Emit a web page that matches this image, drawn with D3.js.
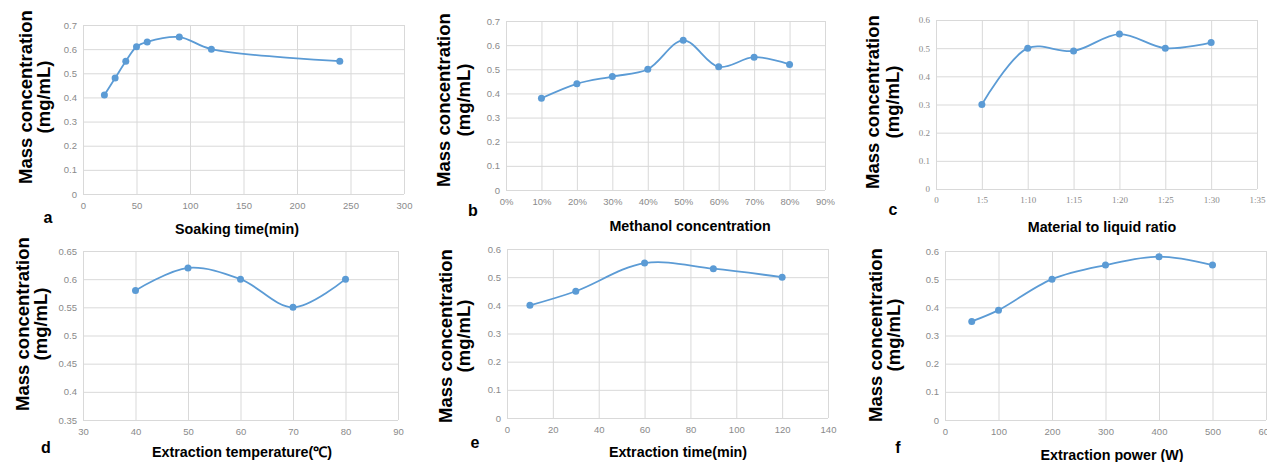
<!DOCTYPE html>
<html>
<head>
<meta charset="utf-8">
<script src="https://cdn.jsdelivr.net/npm/d3@7"></script>
<style>
  body { margin: 0; background: #fff; }
  .grid line { stroke: #d9d9d9; }
  .grid .domain { display: none; }
  .tick text { fill: #8a8a8a; font-family: "Liberation Sans", Arial, sans-serif; font-size: 9.5px; }
  .serif .tick text { font-family: "Liberation Serif", serif; font-size: 9px; }
  .title { font-family: "Liberation Sans", Arial, sans-serif; font-weight: bold; fill: #000; }
</style>
</head>
<body>
<div id="chart-container"></div>
<script>
// a: soaking time
const soakTime = [20, 30, 40, 50, 60, 90, 120, 240];
const soakConc = [0.41, 0.48, 0.55, 0.61, 0.63, 0.65, 0.60, 0.55];
// b: methanol concentration (%)
const methanolPct = [10, 20, 30, 40, 50, 60, 70, 80];
const methanolConc = [0.38, 0.44, 0.47, 0.50, 0.62, 0.51, 0.55, 0.52];
// c: material to liquid ratio
const ratioLabels = ["1:5", "1:10", "1:15", "1:20", "1:25", "1:30"];
const ratioConc = [0.30, 0.50, 0.49, 0.55, 0.50, 0.52];
// d: extraction temperature
const tempC = [40, 50, 60, 70, 80];
const tempConc = [0.58, 0.62, 0.60, 0.55, 0.60];
// e: extraction time
const extTime = [10, 30, 60, 90, 120];
const extTimeConc = [0.40, 0.45, 0.55, 0.53, 0.50];
// f: extraction power
const powerW = [50, 100, 200, 300, 400, 500];
const powerConc = [0.35, 0.39, 0.50, 0.55, 0.58, 0.55];

const ratioTicks = ["0", "1:5", "1:10", "1:15", "1:20", "1:25", "1:30", "1:35"];

const W = 1267, H = 462;
const LINE = "#5b9bd5";

const svg = d3.select("#chart-container").append("svg")
  .attr("width", W)
  .attr("height", H);

const panels = [
  { tag: "a", xs: soakTime, ys: soakConc, xDom: [0, 300], xStep: 50, yDom: [0, 0.7], yStep: 0.1,
    box: [83, 25, 404, 194], xTitle: "Soaking time(min)", xtx: 237, xty: 234, tagX: 48, tagY: 223,
    ytx: [25, 43], yty: 97 },
  { tag: "b", xs: methanolPct, ys: methanolConc, xDom: [0, 90], xStep: 10, yDom: [0, 0.7], yStep: 0.1,
    box: [506, 21, 825, 190], xTitle: "Methanol concentration", xtx: 690, xty: 231, tagX: 473, tagY: 216,
    ytx: [443, 463], yty: 100, xFmt: d => d + "%" },
  { tag: "c", xs: ratioLabels.map((d, i) => (i + 1) * 5), ys: ratioConc, xDom: [0, 35], xStep: 5, yDom: [0, 0.6], yStep: 0.1,
    box: [936, 20, 1257, 189], xTitle: "Material to liquid ratio", xtx: 1102, xty: 232, tagX: 893, tagY: 215,
    ytx: [872, 892], yty: 102, xFmt: d => ratioTicks[d / 5], serif: true },
  { tag: "d", xs: tempC, ys: tempConc, xDom: [30, 90], xStep: 10, yDom: [0.35, 0.65], yStep: 0.05,
    box: [83, 251, 398, 420], xTitle: "Extraction temperature(\u2103)", xtx: 242, xty: 457, tagX: 46, tagY: 453,
    ytx: [22, 40], yty: 324 },
  { tag: "e", xs: extTime, ys: extTimeConc, xDom: [0, 140], xStep: 20, yDom: [0, 0.6], yStep: 0.1,
    box: [507, 249, 828, 418], xTitle: "Extraction time(min)", xtx: 678, xty: 457, tagX: 475, tagY: 448,
    ytx: [445, 463], yty: 336 },
  { tag: "f", xs: powerW, ys: powerConc, xDom: [0, 600], xStep: 100, yDom: [0, 0.6], yStep: 0.1,
    box: [945, 251, 1266, 420], xTitle: "Extraction power (W)", xtx: 1112, xty: 460, tagX: 898, tagY: 453,
    ytx: [875, 893], yty: 335 }
];

function ticksOf(dom, step) {
  const out = [];
  const n = Math.round((dom[1] - dom[0]) / step);
  for (let i = 0; i <= n; i++) out.push(+(dom[0] + i * step).toFixed(3));
  return out;
}

panels.forEach(p => {
  const [x0, y0, x1, y1] = p.box;
  const x = d3.scaleLinear().domain(p.xDom).range([x0, x1]);
  const y = d3.scaleLinear().domain(p.yDom).range([y1, y0]);

  const g = svg.append("g").attr("class", p.serif ? "serif" : null);

  // horizontal gridlines + y tick labels
  g.append("g")
    .attr("class", "grid")
    .attr("transform", `translate(${x0},0)`)
    .call(d3.axisLeft(y).tickValues(ticksOf(p.yDom, p.yStep)).tickSize(-(x1 - x0)).tickPadding(6)
      .tickFormat(d => String(d)));

  // vertical gridlines + x tick labels
  g.append("g")
    .attr("class", "grid")
    .attr("transform", `translate(0,${y1})`)
    .call(d3.axisBottom(x).tickValues(ticksOf(p.xDom, p.xStep)).tickSize(-(y1 - y0)).tickPadding(8)
      .tickFormat(p.xFmt || (d => String(d))));

  const pts = p.xs.map((d, i) => [d, p.ys[i]]);

  g.append("path")
    .datum(pts)
    .attr("fill", "none")
    .attr("stroke", LINE)
    .attr("stroke-width", 1.8)
    .attr("d", d3.line().x(d => x(d[0])).y(d => y(d[1])).curve(d3.curveCatmullRom.alpha(0.5)));

  g.selectAll("circle.pt")
    .data(pts)
    .enter().append("circle")
    .attr("class", "pt")
    .attr("cx", d => x(d[0]))
    .attr("cy", d => y(d[1]))
    .attr("r", 3.5)
    .attr("fill", LINE);

  g.append("text")
    .attr("class", "title")
    .attr("x", p.xtx)
    .attr("y", p.xty)
    .attr("text-anchor", "middle")
    .style("font-size", "14.3px")
    .text(p.xTitle);

  g.append("text")
    .attr("class", "title")
    .attr("x", p.tagX)
    .attr("y", p.tagY)
    .attr("text-anchor", "middle")
    .style("font-size", "16px")
    .text(p.tag);

  ["Mass concentration", "(mg/mL)"].forEach((t, i) => {
    g.append("text")
      .attr("class", "title")
      .attr("transform", `translate(${p.ytx[i] + 6.5},${p.yty}) rotate(-90)`)
      .attr("text-anchor", "middle")
      .style("font-size", "18.5px")
      .text(t);
  });
});
</script>
</body>
</html>
